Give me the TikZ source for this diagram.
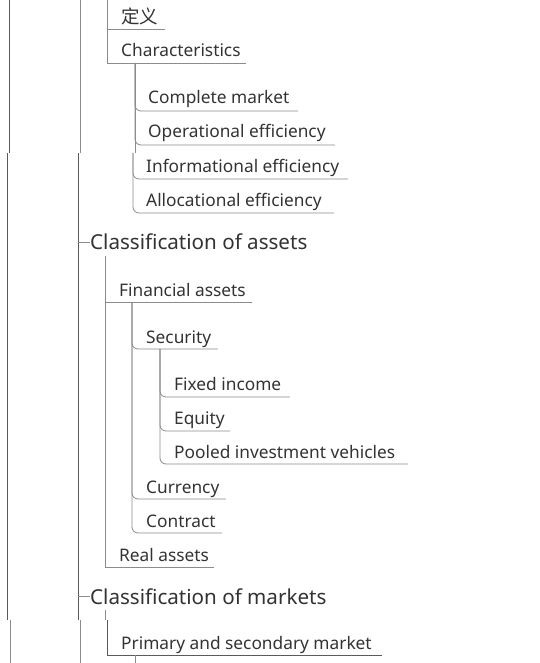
\documentclass[tikz,border=0pt]{standalone}
\usepackage{fontspec}
\setmainfont{Noto Sans}
\newfontfamily\cjkfont{Noto Sans CJK SC}
\definecolor{txt}{HTML}{333333}
\definecolor{branch}{HTML}{8C8C8C}
\definecolor{trunk}{HTML}{5A5A5A}
\tikzset{
  lbl/.style={anchor=base west, inner sep=0pt, text=txt, font=\fontsize{17.3}{19}\selectfont},
  big/.style={anchor=base west, inner sep=0pt, text=txt, font=\fontsize{20.6}{22}\selectfont},
  cjk/.style={anchor=base west, inner sep=0pt, text=txt, font=\cjkfont\fontsize{18.5}{20}\selectfont},
  br/.style={draw=branch, line width=0.8pt},
  rbr/.style={draw=branch, line width=0.8pt, rounded corners=6pt},
  tr/.style={draw=trunk, line width=0.8pt}
}
\begin{document}
\begin{tikzpicture}[x=1pt,y=-1pt]
\useasboundingbox[fill=white] (0,0) rectangle (540,663);
% trunk lines (with screenshot seams)
\coordinate (t1a) at (9.5,0);   \coordinate (t1b) at (9.5,153);
\coordinate (t1c) at (7.5,153); \coordinate (t1d) at (7.5,620);
\coordinate (t1e) at (10.5,620); \coordinate (t1f) at (10.5,663);
\coordinate (t2a) at (80,0);    \coordinate (t2b) at (80,153);
\coordinate (t2c) at (78,153);  \coordinate (t2d) at (78,620);
\coordinate (t2e) at (80.5,620); \coordinate (t2f) at (80.5,663);
\draw[tr] (t1a) -- (t1b); \draw[tr] (t1c) -- (t1d); \draw[br] (t1e) -- (t1f);
\draw[br] (t2a) -- (t2b); \draw[tr] (t2c) -- (t2d); \draw[br] (t2e) -- (t2f);

% ---------- top section
\node[cjk] (dy) at (121,24) {定义};
\node[lbl] (ch) at (121,57) {Characteristics};
\coordinate (s1) at (107,0);
\coordinate (dyE) at (165,29);
\coordinate (chE) at (246,63);
\draw[br] (s1) |- (dyE);
\draw[br] (s1) |- (chE);

\node[lbl] (cm) at (148,104) {Complete market};
\node[lbl] (oe) at (148,138) {Operational efficiency};
\node[lbl] (ie) at (146,172) {Informational efficiency};
\node[lbl] (ae) at (146,206) {Allocational efficiency};
\coordinate (c0) at (135,63);
\coordinate (c1) at (133,153);
\coordinate (cmE) at (298,111);
\coordinate (oeE) at (335,145);
\coordinate (ieE) at (348,179);
\coordinate (aeE) at (334,213);
\draw[rbr] (c0) |- (cmE);
\draw[rbr] (c0) |- (oeE);
\draw[br] (c0) -- (c0 |- c1);
\draw[rbr] (c1) |- (ieE);
\draw[rbr] (c1) |- (aeE);

% ---------- Classification of assets
\node[big] (ca) at (90,249) {Classification of assets};
\coordinate (caL) at (78,242);
\draw[br] (caL) -- (ca.west |- caL);
\coordinate (a0) at (105,256);
\node[lbl] (fa) at (119,296) {Financial assets};
\node[lbl] (ra) at (119,561) {Real assets};
\coordinate (faE) at (252,302);
\coordinate (raE) at (214,567);
\draw[br] (a0) |- (faE);
\draw[br] (a0) |- (raE);

\coordinate (f0) at (132,302);
\node[lbl] (se) at (146,343) {Security};
\node[lbl] (cu) at (146,493) {Currency};
\node[lbl] (co) at (146,527) {Contract};
\coordinate (seE) at (218,349);
\coordinate (cuE) at (226,499);
\coordinate (coE) at (222,533);
\draw[rbr] (f0) |- (seE);
\draw[rbr] (f0) |- (cuE);
\draw[rbr] (f0) |- (coE);

\coordinate (g0) at (160,349);
\node[lbl] (fi) at (174,390) {Fixed income};
\node[lbl] (eq) at (174,424) {Equity};
\node[lbl] (pi) at (174,458) {Pooled investment vehicles};
\coordinate (fiE) at (290,397);
\coordinate (eqE) at (230,431);
\coordinate (piE) at (408,464);
\draw[rbr] (g0) |- (fiE);
\draw[rbr] (g0) |- (eqE);
\draw[rbr] (g0) |- (piE);

% ---------- Classification of markets
\node[big] (cmk) at (90,604) {Classification of markets};
\coordinate (cmkL) at (78,596);
\draw[br] (cmkL) -- (cmk.west |- cmkL);
\coordinate (m0) at (105,610);
\coordinate (m1) at (105,620);
\draw[br] (m0) -- (m1);
\coordinate (m2) at (107.5,620);
\node[lbl] (ps) at (121,649) {Primary and secondary market};
\coordinate (psE) at (382,655);
\draw[tr] (m2) |- (psE);
\coordinate (p0) at (135,655);
\coordinate (p1) at (135,663);
\draw[br] (p0) -- (p1);
\end{tikzpicture}
\end{document}
